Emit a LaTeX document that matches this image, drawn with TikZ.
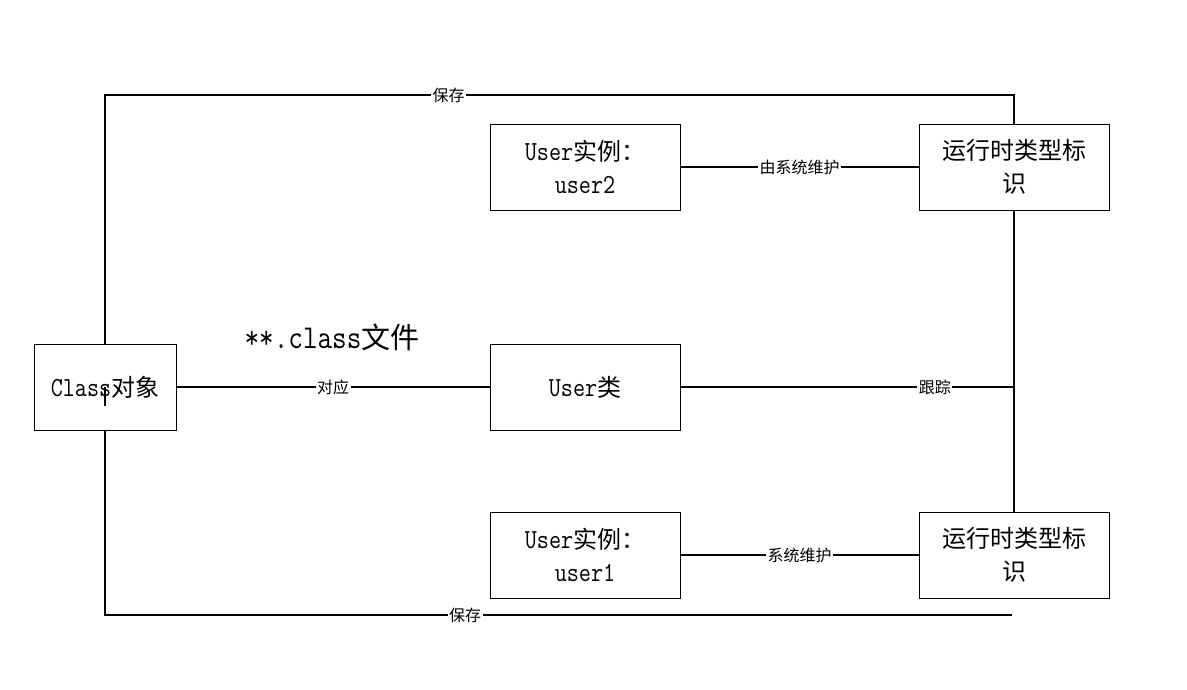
\documentclass[tikz,border=0pt]{standalone}
\usepackage{fontspec}
\setmainfont{Noto Sans CJK SC}
\setmonofont[Scale=1.15,FakeStretch=0.85]{Latin Modern Mono}
\newcommand\lt[1]{{\ttfamily #1}}
\begin{document}
\begin{tikzpicture}[x=1pt,y=-1pt,
  box/.style={draw, line width=0.8pt, minimum width=190pt, minimum height=86pt, align=center,
    font=\fontsize{24}{33}\selectfont, inner sep=0pt},
  cbox/.style={box, minimum width=142pt},
  conn/.style={line width=1.7pt},
  lbl/.style={fill=white, inner sep=1.5pt, font=\fontsize{16}{16}\selectfont}]
\path[use as bounding box] (0,0) rectangle (1187,689);

\node[cbox] (cls) at (105,387) {\lt{Class}对象};
\node[box] (u2) at (585,167) {\lt{User}实例：\\\lt{user2}};
\node[box] (rt1) at (1014,167) {运行时类型标\\识};
\node[box] (ucls) at (585,387) {\lt{User}类};
\node[box] (u1) at (585,555) {\lt{User}实例：\\\lt{user1}};
\node[box] (rt2) at (1014,555) {运行时类型标\\识};

\node[font=\fontsize{29}{29}\selectfont] (file) at (332,337) {\lt{**.class}文件};

\coordinate (tl) at (105,95);
\coordinate (tr) at (1014,95);
\coordinate (bl) at (105,615);
\coordinate (br) at (1012,615);
\coordinate (tk) at (1014,387);
\coordinate (mk1) at (105,387);
\coordinate (mk2) at (105,406);
\coordinate (vk) at (1014,494);

\draw[conn] (cls.north) -- (tl) -- node[lbl, pos=0.378] {保存} (tr) -- (rt1.north);
\draw[conn] (cls.south) -- (bl) -- node[lbl, pos=0.397] {保存} (br);
\draw[conn] (cls.east) -- node[lbl] {对应} (ucls.west);
\draw[conn] (ucls.east) -- node[lbl, pos=0.763] {跟踪} (tk);
\draw[conn] (rt1.south) -- (rt2.north);
\draw[line width=2.6pt] (vk) -- (rt2.north);
\draw[conn] (u2.east) -- node[lbl] {由系统维护} (rt1.west);
\draw[conn] (u1.east) -- node[lbl] {系统维护} (rt2.west);
\draw[line width=2.6pt] (mk1) -- (mk2);
\end{tikzpicture}
\end{document}
